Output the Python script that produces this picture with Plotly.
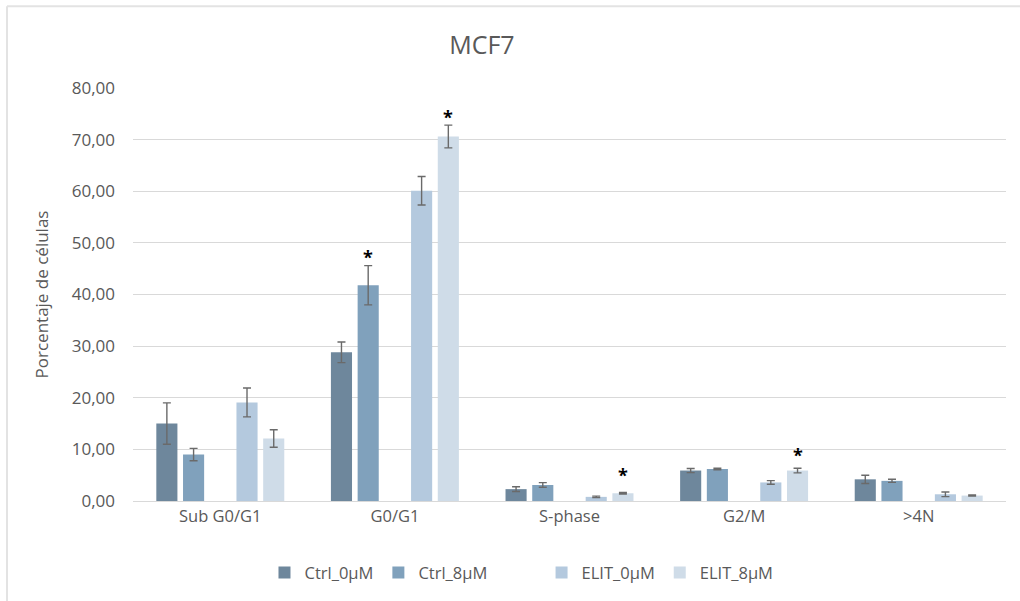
import plotly.graph_objects as go

# Cell-cycle distribution of MCF7 cells (mean ± error per phase)
phases = ["Sub G0/G1", "G0/G1", "S-phase", "G2/M", ">4N"]

series_names = ["Ctrl_0µM", "Ctrl_8µM", "ELIT_0µM", "ELIT_8µM"]

ctrl_0 = [15.0, 28.8, 2.3, 5.9, 4.2]
ctrl_0_err = [4.0, 2.0, 0.45, 0.4, 0.8]

ctrl_8 = [9.0, 41.8, 3.1, 6.2, 3.9]
ctrl_8_err = [1.2, 3.8, 0.45, 0.15, 0.3]

elit_0 = [19.1, 60.1, 0.8, 3.6, 1.3]
elit_0_err = [2.8, 2.75, 0.15, 0.35, 0.45]

elit_8 = [12.1, 70.6, 1.5, 5.9, 1.05]
elit_8_err = [1.7, 2.2, 0.15, 0.45, 0.1]

# significance marks: (series index, phase index)
significant = [(1, 1), (3, 1), (3, 2), (3, 3)]

colors = ["#6e879c", "#80a1bc", "#b4c9de", "#cfdce8"]
grey_text = "#595959"
grid_col = "#d9d9d9"
font_family = "Open Sans"

values = [ctrl_0, ctrl_8, elit_0, elit_8]
errors = [ctrl_0_err, ctrl_8_err, elit_0_err, elit_8_err]

fig = go.Figure()


def add_series(i):
    fig.add_trace(go.Bar(
        x=phases, y=values[i], name=series_names[i],
        marker=dict(color=colors[i], line=dict(width=0)),
        error_y=dict(type="data", array=errors[i], visible=True,
                     color="#6a6a6a", thickness=1.4, width=4),
    ))


add_series(0)
add_series(1)
# empty slot between the control and ELIT groups
fig.add_trace(go.Bar(
    x=phases, y=[None] * len(phases), name=" ",
    marker=dict(color="rgba(0,0,0,0)", line=dict(width=0, color="rgba(0,0,0,0)")),
    hoverinfo="skip",
))
add_series(2)
add_series(3)

# asterisks above the significant bars
star_lift = {(1, 1): 12, (3, 1): 11, (3, 2): 20, (3, 3): 16}
slot_offsets = {0: -2, 1: -1, 2: 1, 3: 2}
for s, p in significant:
    top = values[s][p] + errors[s][p]
    fig.add_annotation(
        x=p + slot_offsets[s] * 0.153, y=top, xref="x", yref="y",
        text="<b>*</b>", showarrow=False,
        font=dict(family=font_family, size=18, color="#000000"),
        yanchor="middle", yshift=star_lift[(s, p)] - 3,
    )

# chart-area frame (left and top edges)
fig.add_shape(type="line", xref="paper", yref="paper",
              x0=-0.1443, x1=-0.1443, y0=-0.27, y1=1.198,
              line=dict(color="#e3e3e3", width=2))
fig.add_shape(type="line", xref="paper", yref="paper",
              x0=-0.1443, x1=1.02, y0=1.198, y1=1.198,
              line=dict(color="#e3e3e3", width=2))

fig.update_layout(
    width=1020, height=601,
    margin=dict(l=133, r=14, t=88, b=99),
    paper_bgcolor="white", plot_bgcolor="white",
    separators=",.",
    barmode="group", bargap=0.235, bargroupgap=0.21,
    font=dict(family=font_family, color=grey_text, size=16),
    title=dict(text="MCF7", x=0.4725, xanchor="center", xref="container",
               y=0.925, yanchor="middle",
               font=dict(family=font_family, size=25, color=grey_text)),
    legend=dict(orientation="h", x=0.445, xanchor="center",
                y=-0.171, yanchor="middle",
                font=dict(family=font_family, size=16.5, color=grey_text),
                itemwidth=30, traceorder="normal"),
    showlegend=True,
)

fig.update_xaxes(
    showgrid=False, showline=True, linecolor=grid_col, linewidth=1,
    ticks="", tickfont=dict(size=16.5, color=grey_text),
    fixedrange=True,
)
fig.update_yaxes(
    range=[0, 80], dtick=10, tickformat=".2f",
    showgrid=True, gridcolor=grid_col, gridwidth=1,
    zeroline=False, showline=False, ticks="",
    ticklabelstandoff=17,
    tickfont=dict(size=17, color=grey_text),
    title=dict(text="Porcentaje de células",
               font=dict(size=17, color=grey_text), standoff=18),
    fixedrange=True,
)

fig.write_html("out.html")
